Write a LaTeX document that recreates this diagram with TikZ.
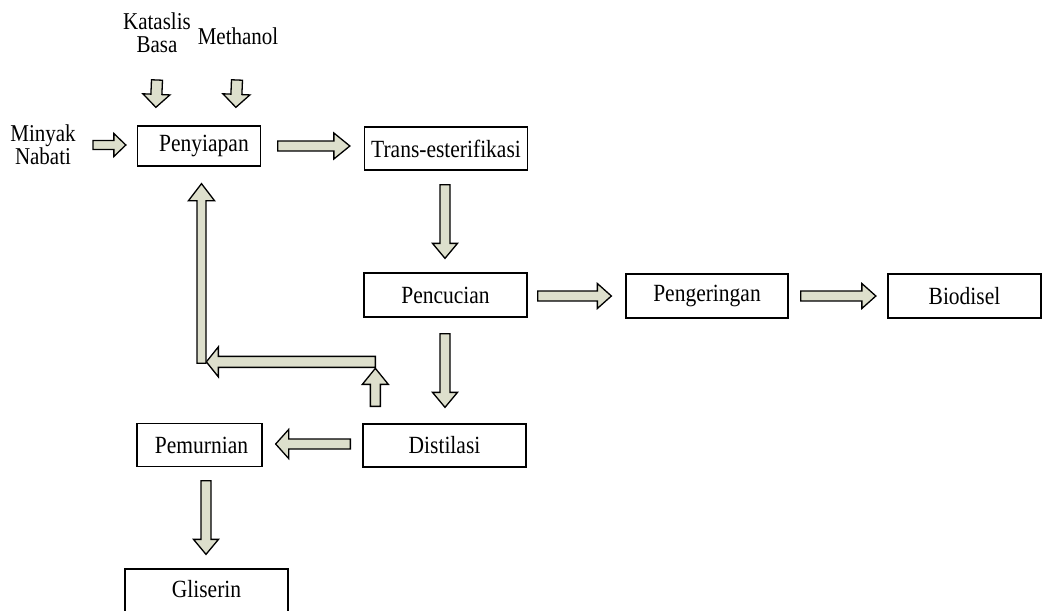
\documentclass[tikz,border=0pt]{standalone}
\usepackage{fontspec}
\setmainfont{Liberation Serif}
\usetikzlibrary{calc}
\definecolor{arrowfill}{RGB}{221,223,204}
\newcommand\tallt[1]{\scalebox{1}[1.15]{#1}}
\tikzset{
  procbox/.style={draw=black, line width=1.3pt, fill=white, inner sep=0pt,
    font=\fontsize{21.5}{24}\selectfont},
  lbl/.style={inner sep=0pt, align=center, font=\fontsize{21}{20}\selectfont,
    yscale=1.15, transform shape},
  blockarrow/.style={draw=black, line width=1.3pt, fill=arrowfill, line join=miter}
}
% #1 start, #2 tip, #3 shaft half width, #4 head half width, #5 head length
\newcommand\barrow[5]{%
  \coordinate (ba-s) at #1;
  \coordinate (ba-t) at #2;
  \coordinate (ba-h) at ($(ba-t)!#5!(ba-s)$);
  \draw[blockarrow] ($(ba-s)!#3!-90:(ba-t)$) -- ($(ba-h)!#3!90:(ba-s)$)
    -- ($(ba-h)!#4!90:(ba-s)$) -- (ba-t) -- ($(ba-h)!#4!-90:(ba-s)$)
    -- ($(ba-h)!#3!-90:(ba-s)$) -- ($(ba-s)!#3!90:(ba-t)$) -- cycle;
}
\begin{document}
\begin{tikzpicture}[x=1pt,y=-1pt]
\useasboundingbox (0,0) rectangle (1043,610);
\clip (0,0) rectangle (1043,610);

% process boxes
\node[procbox, minimum width=123pt, minimum height=40pt] (peny)  at (199,146)   {\hspace*{10pt}\tallt{Penyiapan}};
\node[procbox, minimum width=163pt, minimum height=43pt] (trans) at (446,148.5) {\tallt{Trans-esterifikasi}};
\node[procbox, minimum width=163pt, minimum height=44pt] (penc)  at (445.5,295) {\tallt{Pencucian}};
\node[procbox, minimum width=162pt, minimum height=44pt] (peng)  at (707,296)   {\tallt{Pengeringan}};
\node[procbox, minimum width=153pt, minimum height=44pt] (bio)   at (964.5,296) {\tallt{Biodisel}};
\node[procbox, minimum width=163pt, minimum height=43pt] (dist)  at (444.5,445.5) {\tallt{Distilasi}};
\node[procbox, minimum width=125pt, minimum height=43pt] (pemu)  at (199.5,445) {\hspace*{4pt}\tallt{Pemurnian}};
\node[procbox, minimum width=163pt, minimum height=52pt, text depth=13pt] (glis) at (206.5,595) {\tallt{Gliserin}};

% input labels
\node[lbl] (kat)  at (157,33)  {Kataslis\\Basa};
\node[lbl] (meth) at (238,36)  {Methanol};
\node[lbl] (miny) at (43,145)  {Minyak\\Nabati};

% block arrows
\barrow{(93,145)}{($(peny.west)+(-11,-1)$)}{4.5pt}{11.5pt}{12pt}
\barrow{(157,80)}{($(peny.north west)+(19,-18)$)}{5.5pt}{13.5pt}{13pt}
\barrow{(237,80)}{($(peny.north west)+(99,-18)$)}{5.5pt}{13.5pt}{13pt}
\barrow{($(peny.east)+(16.5,0)$)}{($(trans.west)+(-14,-2.5)$)}{5pt}{13pt}{16pt}
\barrow{($(trans.south)+(-1,14)$)}{($(penc.north)+(-0.5,-14)$)}{5pt}{12.5pt}{15pt}
\barrow{($(penc.east)+(10,1)$)}{($(peng.west)+(-14,0)$)}{5pt}{12.5pt}{14pt}
\barrow{($(peng.east)+(12,0)$)}{($(bio.west)+(-11.5,0)$)}{5pt}{12.5pt}{14pt}
\barrow{($(penc.south)+(-0.5,16)$)}{($(dist.north)+(0.5,-16)$)}{5pt}{12.5pt}{15pt}
\barrow{($(dist.west)+(-12,-1.5)$)}{($(pemu.east)+(13,-1)$)}{5pt}{14.5pt}{13pt}
\barrow{($(pemu.south)+(6.5,13.5)$)}{($(glis.north)+(-0.5,-14)$)}{5pt}{12.5pt}{15pt}
% recycle arrows from Distilasi back to Penyiapan
\coordinate (rc1) at ($(dist.north west)+(13,-17)$);
\coordinate (rc2) at ($(dist.north west)+(13,-61.5)$);
\coordinate (rc3) at ($(peny.south)+(2.5,196.5)$);
\barrow{(rc1)}{($(rc1)+(0,-38)$)}{5pt}{13pt}{16pt}
\barrow{(rc2)}{($(rc2)+(-169,0)$)}{5.5pt}{15pt}{12pt}
\barrow{(rc3)}{($(peny.south)+(2.5,17)$)}{4.5pt}{13pt}{17pt}
\end{tikzpicture}
\end{document}
